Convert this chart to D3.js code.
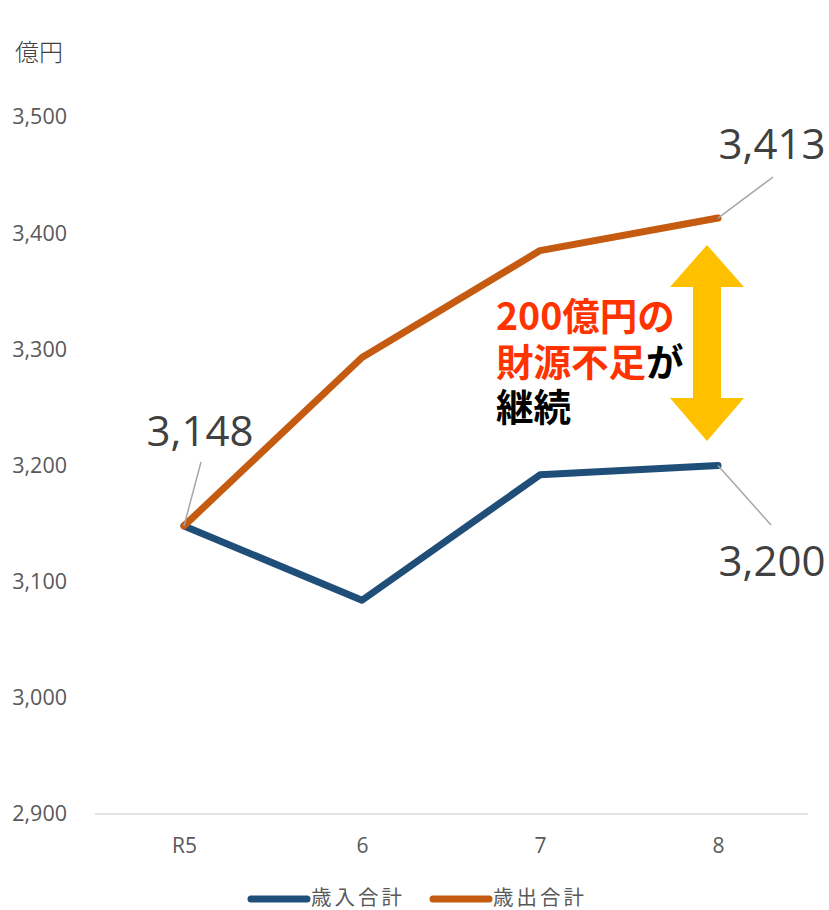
<!DOCTYPE html>
<html>
<head>
<meta charset="utf-8">
<script src="https://cdn.jsdelivr.net/npm/d3@7"></script>
<style>
  html, body { margin: 0; padding: 0; background: #fff; }
  svg { display: block; }
</style>
</head>
<body>
<svg id="chart" width="829" height="910"></svg>
<script>
// 歳入・歳出の推移（億円）
const categories = ["R5", "6", "7", "8"];
const revenue = [3148, 3084, 3192, 3200];      // 歳入合計
const expenditure = [3148, 3293, 3385, 3413];  // 歳出合計
const yTicks = [2900, 3000, 3100, 3200, 3300, 3400, 3500];
const seriesNames = ["歳入合計", "歳出合計"];
const seriesColors = ["#1F4E79", "#C55A11"];

const svg = d3.select("#chart");
const latin = "'Open Sans', 'Noto Sans', sans-serif";
const cjk = "'Noto Sans CJK JP', 'Noto Sans', sans-serif";

const x = d3.scalePoint().domain(categories).range([184, 718]);
const y = d3.scaleLinear().domain([2900, 3500]).range([814, 117]);

// 軸ラベル
svg.append("text").attr("x", 15).attr("y", 61)
  .attr("font-family", cjk).attr("font-size", 24).attr("font-weight", 300).attr("fill", "#404040")
  .text("億円");

// Y軸目盛
const yAxis = d3.axisLeft(y).tickValues(yTicks).tickFormat(d3.format(",")).tickSize(0).tickPadding(0);
const gy = svg.append("g").attr("transform", "translate(67,0)").call(yAxis);
gy.select(".domain").remove();
gy.selectAll("text").attr("font-family", latin).attr("font-size", 21.5).attr("fill", "#595959");

// 基準線
svg.append("line").attr("x1", 95).attr("x2", 808)
  .attr("y1", y(2900)).attr("y2", y(2900))
  .attr("stroke", "#d9d9d9").attr("stroke-width", 1.5);

// X軸目盛
const xAxis = d3.axisBottom(x).tickSize(0).tickPadding(0);
const gx = svg.append("g").attr("transform", "translate(0,853)").call(xAxis);
gx.select(".domain").remove();
gx.selectAll("text").attr("font-family", latin).attr("font-size", 21).attr("fill", "#595959").attr("dy", 0);

// 折れ線
const line = d3.line().x((d, i) => x(categories[i])).y(d => y(d));
[revenue, expenditure].forEach((s, k) => {
  svg.append("path").datum(s).attr("d", line)
    .attr("fill", "none").attr("stroke", seriesColors[k])
    .attr("stroke-width", 7).attr("stroke-linejoin", "round").attr("stroke-linecap", "round");
});

// データラベルと引き出し線
const labels = [
  { v: expenditure[0], i: 0, lx: 201, ly: 462, tx: 200, ty: 446 },
  { v: expenditure[3], i: 3, lx: 773, ly: 177, tx: 772, ty: 159 },
  { v: revenue[3], i: 3, lx: 771, ly: 525, tx: 772, ty: 576 }
];
labels.forEach(l => {
  svg.append("line")
    .attr("x1", x(categories[l.i])).attr("y1", y(l.v))
    .attr("x2", l.lx).attr("y2", l.ly)
    .attr("stroke", "#a6a6a6").attr("stroke-width", 1.5);
  svg.append("text").attr("x", l.tx).attr("y", l.ty)
    .attr("text-anchor", "middle")
    .attr("font-family", latin).attr("font-size", 42)
    .attr("fill", "#404040").text(d3.format(",")(l.v));
});

// 両矢印（差額）
const arrowX = 707, arrowTop = 245, arrowBot = 441;
const arrow = d3.path();
arrow.moveTo(arrowX, arrowTop);
arrow.lineTo(arrowX + 37, arrowTop + 42);
arrow.lineTo(arrowX + 14, arrowTop + 42);
arrow.lineTo(arrowX + 14, arrowBot - 43);
arrow.lineTo(arrowX + 37, arrowBot - 43);
arrow.lineTo(arrowX, arrowBot);
arrow.lineTo(arrowX - 37, arrowBot - 43);
arrow.lineTo(arrowX - 14, arrowBot - 43);
arrow.lineTo(arrowX - 14, arrowTop + 42);
arrow.lineTo(arrowX - 37, arrowTop + 42);
arrow.closePath();
svg.append("path").attr("d", arrow.toString()).attr("fill", "#FFC000");

// 注記
const note = svg.append("g").attr("font-family", cjk).attr("font-weight", "bold").attr("font-size", 37.5);
note.append("text").attr("x", 496).attr("y", 330).attr("fill", "#FF3300").text("200億円の");
const t2 = note.append("text").attr("x", 496).attr("y", 376);
t2.append("tspan").attr("fill", "#FF3300").text("財源不足");
t2.append("tspan").attr("fill", "#000").text("が");
note.append("text").attr("x", 496).attr("y", 421).attr("fill", "#000").text("継続");

// 凡例
const legend = [{ x: 251 }, { x: 433 }];
legend.forEach((d, k) => {
  svg.append("line").attr("x1", d.x).attr("x2", d.x + 56)
    .attr("y1", 899).attr("y2", 899)
    .attr("stroke", seriesColors[k]).attr("stroke-width", 7).attr("stroke-linecap", "round");
  svg.append("text").attr("x", d.x + 60).attr("y", 905)
    .attr("font-family", cjk).attr("font-size", 20.5).attr("letter-spacing", 3)
    .attr("fill", "#595959")
    .text(seriesNames[k]);
});
</script>
</body>
</html>
